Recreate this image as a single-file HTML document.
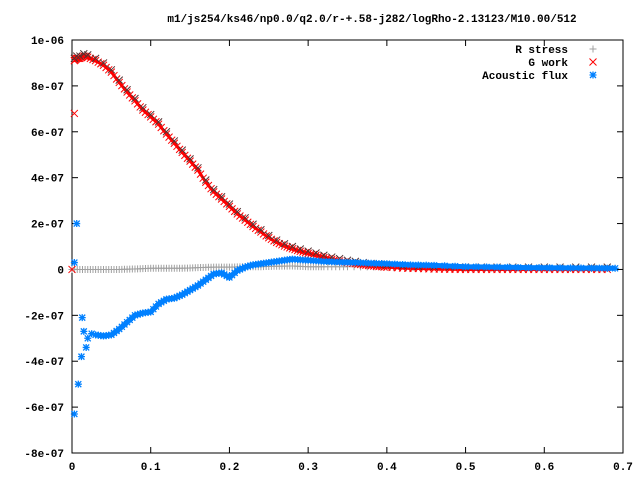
<!DOCTYPE html>
<html><head><meta charset="utf-8"><style>
body{margin:0;background:#fff}
svg{display:block}
text{font-family:"Liberation Mono","DejaVu Sans Mono",monospace;font-weight:bold;font-size:11px;fill:#000}
</style></head><body>
<svg id="chart" width="640" height="480" viewBox="0 0 640 480" xmlns="http://www.w3.org/2000/svg">
<text x="372" y="22" text-anchor="middle">m1/js254/ks46/np0.0/q2.0/r-+.58-j282/logRho-2.13123/M10.00/512</text>
<g id="axes"></g>
<g id="marks"></g>
<g id="legend"></g>
</svg>
<script>
// values in units of 1e-7
const xTicks=[0,0.1,0.2,0.3,0.4,0.5,0.6,0.7];
const xTickLabels=["0","0.1","0.2","0.3","0.4","0.5","0.6","0.7"];
const yTicks=[10,8,6,4,2,0,-2,-4,-6,-8];
const yTickLabels=["1e-06","8e-07","6e-07","4e-07","2e-07","0","-2e-07","-4e-07","-6e-07","-8e-07"];
const gX=[0.003,0.006,0.01,0.015,0.02,0.03,0.04,0.05,0.06,0.07,0.08,0.09,0.1,0.11,0.12,0.13,0.14,0.15,0.16,0.17,0.18,0.19,0.2,0.21,0.22,0.23,0.24,0.25,0.26,0.27,0.28,0.29,0.3,0.31,0.32,0.33,0.34,0.35,0.36,0.37,0.38,0.39,0.4,0.42,0.44,0.46,0.48,0.5,0.52,0.54,0.56,0.58,0.6,0.62,0.64,0.66,0.68];
const gWork=[9.1,9.2,9.2,9.3,9.25,9.1,8.9,8.6,8.15,7.73,7.35,6.95,6.65,6.33,5.9,5.5,5.1,4.72,4.33,3.8,3.38,3.07,2.75,2.42,2.15,1.87,1.63,1.38,1.18,1.02,0.9,0.79,0.7,0.62,0.52,0.44,0.37,0.3,0.25,0.2,0.16,0.13,0.1,0.06,0.04,0.02,0.01,0.0,0.0,0.0,0.0,0.0,0.0,0.0,0.0,0.0,0.0];
const gOutX=[0.003,0.0];
const gOut=[6.8,0.0];
const rX=[0,0.02,0.04,0.06,0.08,0.1,0.12,0.14,0.16,0.18,0.2,0.22,0.24,0.26,0.28,0.3,0.32,0.35,0.4,0.45,0.5,0.55,0.6,0.65,0.68];
const rStress=[0.0,0.0,0.0,0.0,0.02,0.05,0.05,0.05,0.08,0.1,0.1,0.12,0.12,0.14,0.15,0.12,0.12,0.12,0.1,0.08,0.06,0.05,0.05,0.04,0.04];
const aX=[0.03,0.04,0.05,0.06,0.07,0.08,0.09,0.1,0.11,0.12,0.13,0.14,0.15,0.16,0.17,0.18,0.19,0.2,0.21,0.22,0.23,0.24,0.25,0.26,0.27,0.28,0.29,0.3,0.32,0.34,0.36,0.38,0.4,0.43,0.46,0.5,0.54,0.58,0.62,0.66,0.69];
const aFlux=[-2.85,-2.9,-2.85,-2.6,-2.3,-2.0,-1.9,-1.85,-1.5,-1.3,-1.25,-1.1,-0.9,-0.7,-0.45,-0.2,-0.15,-0.35,-0.05,0.1,0.2,0.25,0.3,0.35,0.4,0.45,0.42,0.4,0.35,0.32,0.3,0.27,0.25,0.2,0.18,0.12,0.1,0.08,0.07,0.06,0.05];
const aOutX=[0.003,0.003,0.006,0.008,0.012,0.013,0.015,0.018,0.02,0.025];
const aOut=[0.3,-6.3,2.0,-5.0,-3.8,-2.1,-2.7,-3.4,-3.0,-2.8];

const L=72,R=623,T=40,B=453;
const xs=v=>L+v/0.7*(R-L);
const ys=v=>T+(10-v)/18*(B-T);
const NS="http://www.w3.org/2000/svg";
function mk(p,tag,at){const e=document.createElementNS(NS,tag);for(const k in at)e.setAttribute(k,at[k]);p.appendChild(e);return e;}
const axes=document.getElementById('axes'),marks=document.getElementById('marks'),leg=document.getElementById('legend');
const frame=mk(axes,'rect',{x:L,y:T,width:R-L,height:B-T,fill:'none',stroke:'#000','stroke-width':1});

xTicks.forEach((v,i)=>{const x=xs(v);
 mk(axes,'line',{x1:x,y1:B,x2:x,y2:B-6,stroke:'#000'});mk(axes,'line',{x1:x,y1:T,x2:x,y2:T+6,stroke:'#000'});
 const t=mk(axes,'text',{x:x,y:B+17,'text-anchor':'middle'});t.textContent=xTickLabels[i];
 });
yTicks.forEach((v,i)=>{const y=ys(v);
 mk(axes,'line',{x1:L,y1:y,x2:L+6,y2:y,stroke:'#000'});mk(axes,'line',{x1:R,y1:y,x2:R-6,y2:y,stroke:'#000'});
 const t=mk(axes,'text',{x:L-8,y:y+4,'text-anchor':'end'});t.textContent=yTickLabels[i];
 });
function plus(g,x,y,c){mk(g,'path',{d:`M${x-3.5} ${y}h7M${x} ${y-3.5}v7`,stroke:c,'stroke-width':1,fill:'none'});}
function cross(g,x,y,c){mk(g,'path',{d:`M${x-3.5} ${y-3.5}l7 7M${x-3.5} ${y+3.5}l7 -7`,stroke:c,'stroke-width':1,fill:'none'});}
function star(g,x,y,c){mk(g,'path',{d:`M${x-3.5} ${y}h7M${x} ${y-3.5}v7M${x-3} ${y-3}l6 6M${x-3} ${y+3}l6 -6`,stroke:c,'stroke-width':1.3,fill:'none'});}
function series(name,X,Y,c,w,fn,step){
 const g=mk(marks,'g',{});
 if(w>0)mk(g,'polyline',{points:X.map((x,i)=>xs(x)+','+ys(Y[i])).join(' '),fill:'none',stroke:c,'stroke-width':w,'stroke-linejoin':'round'});
 for(let i=0;i<X.length-1;i++){for(let k=0;k<step;k++){const f=k/step;fn(g,xs(X[i])+f*(xs(X[i+1])-xs(X[i])),ys(Y[i])+f*(ys(Y[i+1])-ys(Y[i])),c);}}
 fn(g,xs(X[X.length-1]),ys(Y[Y.length-1]),c);
}
function pts(name,X,Y,c,fn){const g=mk(marks,'g',{});X.forEach((x,i)=>fn(g,xs(x),ys(Y[i]),c));}
series('r-stress-series',rX,rStress,'#a0a0a0',0,plus,6);
series('g-work-series',gX,gWork,'#ff0000',3,cross,3);
series('g-work-overlay',gX.map(v=>v),gWork.map(v=>v+0.1),'#553333',0,cross,1);
pts('g-work-outliers',gOutX,gOut,'#ff0000',cross);
series('acoustic-flux-series',aX,aFlux,'#0080ff',5,star,3);
pts('acoustic-flux-outliers',aOutX,aOut,'#0080ff',star);
const legItems=[["R stress","#a0a0a0",plus,49],["G work","#ff0000",cross,62],["Acoustic flux","#0080ff",star,75]];
legItems.forEach(it=>{const t=mk(leg,'text',{x:568,y:it[3]+4,'text-anchor':'end'});t.textContent=it[0];
 
 it[2](leg,593,it[3],it[1]);});
</script>
</body></html>
